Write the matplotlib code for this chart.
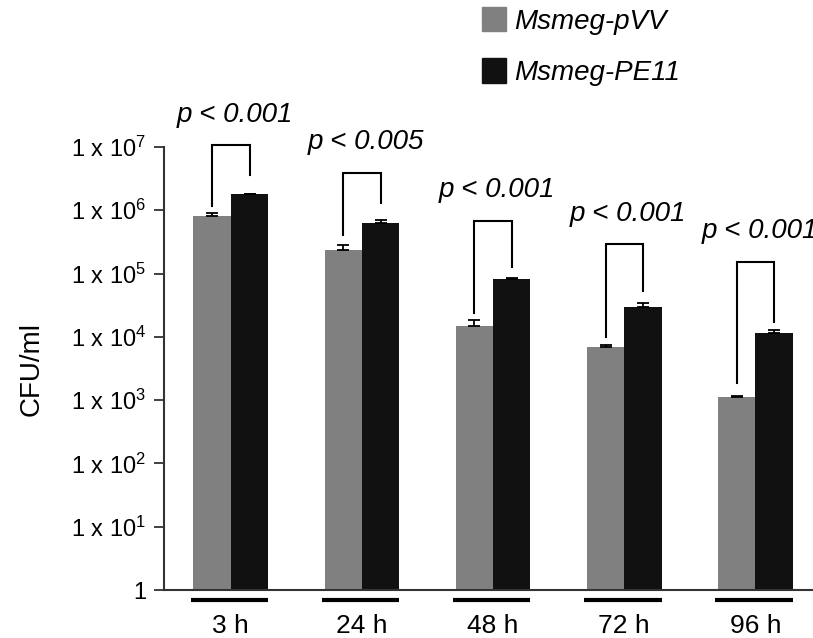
import matplotlib
matplotlib.use("Agg")
import matplotlib.pyplot as plt
import numpy as np
from matplotlib.patches import Patch

plt.rcParams['font.family'] = ['Liberation Sans', 'DejaVu Sans']
plt.rcParams['mathtext.default'] = 'regular'

# data
times = ["3 h", "24 h", "48 h", "72 h", "96 h"]
pvv = [8.1e5, 2.35e5, 1.48e4, 6.9e3, 1.12e3]
pvv_err = [0.9e5, 0.47e5, 0.36e4, 0.5e3, 0.04e3]
pe11 = [1.8e6, 6.3e5, 8.2e4, 2.96e4, 1.15e4]
pe11_err = [0.0, 0.7e5, 0.3e4, 0.46e4, 0.13e4]
p_labels = ["p < 0.001", "p < 0.005", "p < 0.001", "p < 0.001", "p < 0.001"]

# significance brackets (top, left leg end, right leg end)
bracket_top = [1.07e7, 3.87e6, 6.75e5, 2.92e5, 1.52e5]
bracket_left = [1.16e6, 4.06e5, 2.38e4, 9.9e3, 1.86e3]
bracket_right = [3.6e6, 1.3e6, 1.27e5, 5.3e4, 1.71e4]

tick_vals = [1, 1e1, 1e2, 1e3, 1e4, 1e5, 1e6, 1e7]
tick_labels = ["1"] + [r"1 x 10$^{%d}$" % i for i in range(1, 8)]

fig = plt.figure(figsize=(8.13, 6.38), dpi=100)
ax = fig.add_axes([0.2017, 0.0752, 0.7983, 0.6944])

x = np.arange(len(times))
w = 0.285
gray = "#808080"
black = "#111111"

ax.bar(x - w / 2, pvv, width=w, color=gray, zorder=2)
ax.bar(x + w / 2, pe11, width=w, color=black, zorder=2)
ax.errorbar(x - w / 2, pvv, yerr=[np.zeros(len(pvv)), pvv_err], fmt="none",
            ecolor="black", elinewidth=1.3, capsize=4.5, capthick=1.3, zorder=3)
ax.errorbar(x + w / 2, pe11, yerr=[np.zeros(len(pe11)), pe11_err], fmt="none",
            ecolor="black", elinewidth=1.3, capsize=4.5, capthick=1.3, zorder=3)

for i in range(len(times)):
    xl = x[i] - w / 2
    xr = x[i] + w / 2
    ax.plot([xl, xl, xr, xr], [bracket_left[i], bracket_top[i], bracket_top[i], bracket_right[i]],
            color="black", lw=1.5, clip_on=False, solid_joinstyle="miter")
    ax.annotate(p_labels[i], (x[i], bracket_top[i]), xytext=(3, 17),
                textcoords="offset points", ha="center", va="baseline",
                fontsize=20, style="italic", annotation_clip=False)
    # underline below each group
    ax.plot([x[i] - w - 0.02, x[i] + w], [-0.022, -0.022], transform=ax.get_xaxis_transform(),
            color="black", lw=3, clip_on=False, solid_capstyle="butt")

ax.set_yscale("log")
ax.set_ylim(1, 1e7)
ax.set_xlim(-0.51, 4.44)
ax.set_yticks(tick_vals)
ax.set_yticklabels(tick_labels, fontsize=17)
ax.minorticks_off()
ax.set_xticks(x)
ax.set_xticklabels(times, fontsize=19)
ax.tick_params(axis="x", length=0, pad=17)
ax.tick_params(axis="y", length=7, width=1.3, color="#333333", pad=6)
ax.set_ylabel("CFU/ml", fontsize=20, labelpad=19)

for side in ["top", "right"]:
    ax.spines[side].set_visible(False)
for side in ["left", "bottom"]:
    ax.spines[side].set_color("#333333")
    ax.spines[side].set_linewidth(1.5)

handles = [Patch(color=gray, label="Msmeg-pVV"), Patch(color=black, label="Msmeg-PE11")]
leg = fig.legend(handles=handles, loc="upper left", bbox_to_anchor=(482 / 813, 1 - 7 / 638),
                 frameon=False, borderpad=0, borderaxespad=0, handlelength=0.87,
                 handleheight=0.97, handletextpad=0.3, labelspacing=0.85,
                 prop={"size": 20, "style": "italic"})

fig.savefig("out.png", dpi=100)
